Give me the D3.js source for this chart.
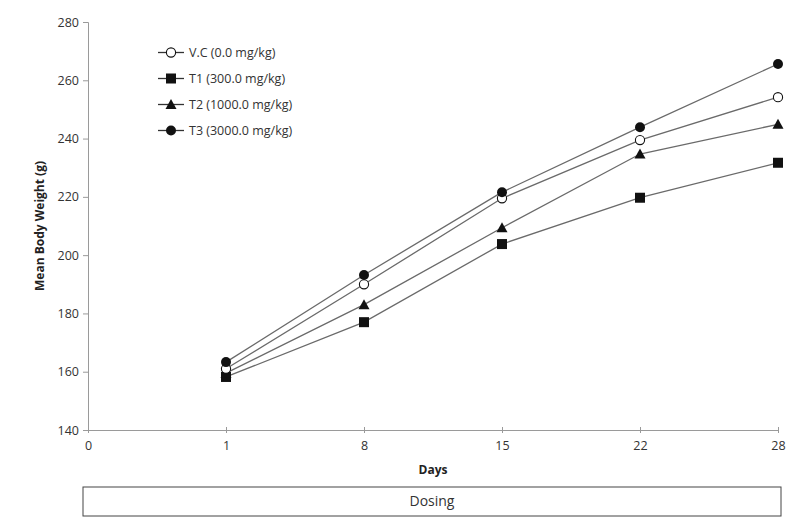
<!DOCTYPE html>
<html>
<head>
<meta charset="utf-8">
<script src="https://cdn.jsdelivr.net/npm/d3@7"></script>
<style>
  body { margin: 0; background: #fff; }
  svg { display: block; font-family: "Open Sans", "Liberation Sans", sans-serif; }
</style>
</head>
<body>
<svg id="chart" width="800" height="525"></svg>
<script>
// ---- data ----
const dayCategories = ["0", "1", "8", "15", "22", "28"];
const seriesDays = ["1", "8", "15", "22", "28"];
const yTicks = [140, 160, 180, 200, 220, 240, 260, 280];
const seriesNames = ["V.C (0.0 mg/kg)", "T1 (300.0 mg/kg)", "T2 (1000.0 mg/kg)", "T3 (3000.0 mg/kg)"];
const vcValues = [161, 190, 219.5, 239.5, 254.2];
const t1Values = [158.2, 177, 203.8, 219.7, 231.7];
const t2Values = [159.5, 183, 209.4, 234.7, 244.9];
const t3Values = [163.3, 193.2, 221.6, 243.9, 265.6];
const markerTypes = ["openCircle", "square", "triangle", "circle"];

const allSeries = [vcValues, t1Values, t2Values, t3Values];

const svg = d3.select("#chart");
const plotLeft = 88, plotRight = 778, plotTop = 22, plotBottom = 430;

const x = d3.scalePoint().domain(dayCategories).range([plotLeft, plotRight]);
const y = d3.scaleLinear().domain([140, 280]).range([plotBottom, plotTop]);

const axisColor = "#9a9a9a";
const textColor = "#333";

// Y axis
const yAxis = svg.append("g").attr("transform", `translate(${plotLeft},0)`)
  .call(d3.axisLeft(y).tickValues(yTicks).tickSize(5).tickPadding(4).tickFormat(d3.format("d")));
yAxis.select(".domain").attr("stroke", axisColor);
yAxis.selectAll(".tick line").attr("stroke", axisColor);
yAxis.selectAll(".tick text").attr("fill", textColor).attr("font-size", 12.5)
  .attr("font-family", "'Open Sans', 'Liberation Sans', sans-serif");

// X axis
const xAxis = svg.append("g").attr("transform", `translate(0,${plotBottom})`)
  .call(d3.axisBottom(x).tickSize(3).tickSizeOuter(0).tickPadding(8));
xAxis.select(".domain").attr("stroke", axisColor);
xAxis.selectAll(".tick line").attr("stroke", axisColor).attr("y1", -3).attr("y2", 3);
xAxis.selectAll(".tick text").attr("fill", textColor).attr("font-size", 12.5)
  .attr("font-family", "'Open Sans', 'Liberation Sans', sans-serif");

// Axis titles
svg.append("text")
  .attr("transform", `translate(44,${(plotTop + plotBottom) / 2}) rotate(-90)`)
  .attr("text-anchor", "middle")
  .attr("font-size", 12).attr("font-weight", "bold").attr("fill", "#222")
  .text("Mean Body Weight (g)");

svg.append("text")
  .attr("x", (plotLeft + plotRight) / 2).attr("y", 474)
  .attr("text-anchor", "middle")
  .attr("font-size", 12).attr("font-weight", "bold").attr("fill", "#222")
  .text("Days");

// Dosing box
svg.append("rect")
  .attr("x", 83).attr("y", 487).attr("width", 698).attr("height", 29)
  .attr("fill", "none").attr("stroke", "#444").attr("stroke-width", 1);
svg.append("text")
  .attr("x", 432).attr("y", 506)
  .attr("text-anchor", "middle")
  .attr("font-size", 14).attr("fill", "#333")
  .text("Dosing");

// marker drawing
function drawMarker(g, type, cx, cy) {
  if (type === "openCircle") {
    g.append("circle").attr("cx", cx).attr("cy", cy).attr("r", 4.6)
      .attr("fill", "#fff").attr("stroke", "#111").attr("stroke-width", 1.1);
  } else if (type === "circle") {
    g.append("circle").attr("cx", cx).attr("cy", cy).attr("r", 5)
      .attr("fill", "#111");
  } else if (type === "square") {
    g.append("rect").attr("x", cx - 5).attr("y", cy - 5).attr("width", 10).attr("height", 10)
      .attr("fill", "#111");
  } else if (type === "triangle") {
    g.append("path")
      .attr("d", `M${cx},${cy - 5.5}L${cx + 5.5},${cy + 4.5}L${cx - 5.5},${cy + 4.5}Z`)
      .attr("fill", "#111");
  }
}

const line = d3.line().x((d, i) => x(seriesDays[i])).y(d => y(d));

// lines
allSeries.forEach(vals => {
  svg.append("path").datum(vals)
    .attr("d", line)
    .attr("fill", "none").attr("stroke", "#6a6a6a").attr("stroke-width", 1.3);
});

// markers (draw in order T1, T2, VC, T3 so overlaps look like reference)
const drawOrder = [1, 2, 0, 3];
drawOrder.forEach(si => {
  const g = svg.append("g");
  allSeries[si].forEach((v, i) => drawMarker(g, markerTypes[si], x(seriesDays[i]), y(v)));
});

// Legend
const legend = svg.append("g");
seriesNames.forEach((name, i) => {
  const ly = 52.5 + i * 26;
  legend.append("line").attr("x1", 158).attr("x2", 184).attr("y1", ly).attr("y2", ly)
    .attr("stroke", "#333").attr("stroke-width", 1.3);
  drawMarker(legend, markerTypes[i], 171, ly);
  legend.append("text").attr("x", 189).attr("y", ly + 4.5)
    .attr("font-size", 12.5).attr("fill", "#333").text(name);
});
</script>
</body>
</html>
